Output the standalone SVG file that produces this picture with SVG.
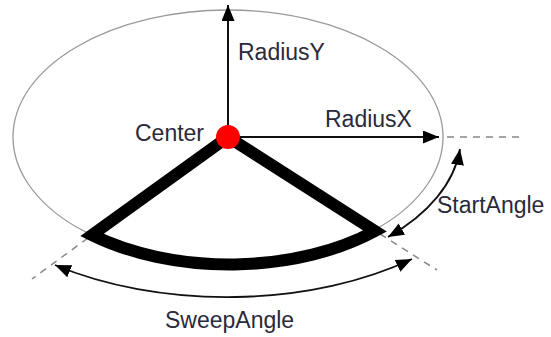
<svg xmlns="http://www.w3.org/2000/svg" width="551" height="337" viewBox="0 0 551 337">
<style>
.lbl{font-family:"Liberation Sans",Arial,sans-serif;font-size:23px;fill:#2a2a3a}
.axis{stroke:#111;stroke-width:2;fill:none}
.dash{stroke:#888;stroke-width:1.5;stroke-dasharray:7 6;fill:none}
.dim{stroke:#111;stroke-width:1.8;fill:none}
</style>
<defs>
<marker id="ah" markerUnits="userSpaceOnUse" markerWidth="17" markerHeight="14" refX="16" refY="6.5" orient="auto-start-reverse">
<path d="M0,0 L16,6.5 L0,13 Z" fill="#000"/>
</marker>
</defs>
<g id="ellipse">
<ellipse cx="228" cy="137" rx="215" ry="127" fill="none" stroke="#999" stroke-width="1.3"/>
</g>
<g id="connectors">
<line class="dash" x1="447" y1="137" x2="522" y2="137"/>
<line class="dash" x1="380" y1="234" x2="437" y2="270"/>
<line class="dash" x1="88" y1="238" x2="32" y2="279"/>
<line class="axis" x1="228" y1="137" x2="228" y2="5" marker-end="url(#ah)"/>
<line class="axis" x1="228" y1="137" x2="439" y2="137" marker-end="url(#ah)"/>
<path class="dim" d="M460,149 A235,140 0 0 1 388,237" marker-start="url(#ah)" marker-end="url(#ah)"/>
<path class="dim" d="M55,265 A286,160 0 0 0 412,259" marker-start="url(#ah)" marker-end="url(#ah)"/>
</g>
<g id="pie">
<path d="M228,137 L375,231 A215,127 0 0 1 92,235 Z" fill="none" stroke="#000" stroke-width="12" stroke-linejoin="miter"/>
</g>
<g id="center">
<circle cx="228" cy="137" r="12" fill="#f00"/>
</g>
<g id="labels">
<text class="lbl" x="238" y="60">RadiusY</text>
<text class="lbl" x="325" y="127">RadiusX</text>
<text class="lbl" x="135" y="141">Center</text>
<text class="lbl" x="437" y="213">StartAngle</text>
<text class="lbl" x="165" y="328">SweepAngle</text>
</g>
</svg>
